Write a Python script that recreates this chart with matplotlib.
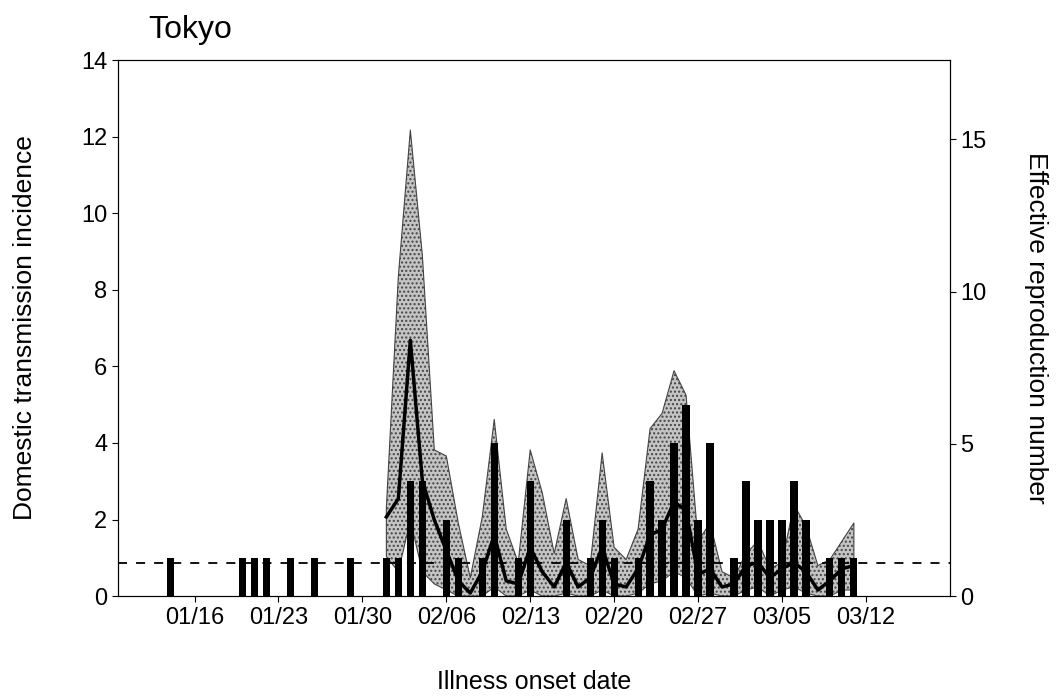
import matplotlib
matplotlib.use("Agg")
import matplotlib.pyplot as plt
import matplotlib.dates as mdates
import pandas as pd

plt.rcParams['font.family'] = ['Liberation Sans', 'DejaVu Sans']

# domestic transmission incidence (bars, left axis)
bar_dates = ["2020-01-14", "2020-01-20", "2020-01-21", "2020-01-22", "2020-01-24",
             "2020-01-26", "2020-01-29", "2020-02-01", "2020-02-02", "2020-02-03",
             "2020-02-04", "2020-02-06", "2020-02-07", "2020-02-09", "2020-02-10",
             "2020-02-12", "2020-02-13", "2020-02-16", "2020-02-18", "2020-02-19",
             "2020-02-20", "2020-02-22", "2020-02-23", "2020-02-24", "2020-02-25",
             "2020-02-26", "2020-02-27", "2020-02-28", "2020-03-01", "2020-03-02",
             "2020-03-03", "2020-03-04", "2020-03-05", "2020-03-06", "2020-03-07",
             "2020-03-09", "2020-03-10", "2020-03-11"]
incidence = [1, 1, 1, 1, 1,
             1, 1, 1, 1, 3,
             3, 2, 1, 1, 4,
             1, 3, 2, 1, 2,
             1, 1, 3, 2, 4,
             5, 2, 4, 1, 3,
             2, 2, 2, 3, 2,
             1, 1, 1]

# effective reproduction number with 95% CI (right axis)
rt_dates = pd.date_range("2020-02-01", "2020-03-11", freq="D")
rt = [2.6, 3.2, 8.4, 3.8, 2.5, 1.5, 0.5, 0.1, 0.8, 2.0,
      0.5, 0.4, 1.6, 0.8, 0.3, 1.1, 0.3, 0.6, 1.6, 0.4,
      0.3, 0.9, 2.0, 2.2, 3.1, 2.8, 0.7, 0.9, 0.3, 0.4,
      1.0, 1.1, 0.6, 0.9, 1.1, 0.8, 0.2, 0.5, 0.9, 1.0]
rt_low = [1.3, 0.8, 2.5, 0.8, 0.4, 0.2, 0.0, 0.0, 0.0, 0.3,
          0.0, 0.0, 0.2, 0.0, 0.0, 0.1, 0.0, 0.0, 0.2, 0.0,
          0.0, 0.1, 0.4, 0.5, 0.8, 0.6, 0.0, 0.1, 0.0, 0.0,
          0.2, 0.3, 0.0, 0.2, 0.3, 0.1, 0.0, 0.0, 0.2, 0.2]
rt_high = [2.9, 10.5, 15.3, 11.2, 4.8, 4.6, 2.4, 0.6, 2.6, 5.8,
           2.2, 1.1, 4.8, 3.4, 1.4, 3.2, 1.2, 1.0, 4.7, 1.6,
           1.2, 2.2, 5.5, 6.0, 7.4, 6.6, 1.8, 2.4, 0.8, 0.6,
           1.4, 1.8, 0.9, 1.1, 3.0, 2.3, 1.0, 1.2, 1.8, 2.4]

tick_dates = pd.date_range("2020-01-16", "2020-03-12", freq="7D")

fig = plt.figure(figsize=(10.6, 6.98), dpi=100)
ax = fig.add_axes([0.111, 0.146, 0.785, 0.768])
ax2 = ax.twinx()

ax2.fill_between(rt_dates, rt_low, rt_high, facecolor="#c4c4c4", edgecolor="#444444",
                 hatch="....", linewidth=0.8)
ax2.plot(rt_dates, rt, color="black", linewidth=2.5)
ax2.axhline(1.1, color="black", linestyle=(0, (5, 5)), linewidth=1.3)

ax.bar(pd.to_datetime(bar_dates), incidence, width=0.6, color="black")

ax.set_zorder(ax2.get_zorder() + 1)
ax.patch.set_visible(False)

ax.set_xlim(pd.Timestamp("2020-01-09 14:00"), pd.Timestamp("2020-03-19"))
ax.set_ylim(0, 14)
ax2.set_ylim(0, 17.6)
ax.set_yticks(range(0, 15, 2))
ax2.set_yticks([0, 5, 10, 15])
ax.set_xticks(tick_dates)
ax.xaxis.set_major_formatter(mdates.DateFormatter("%m/%d"))

ax.tick_params(labelsize=17, length=4)
ax2.tick_params(labelsize=17, length=4)

ax.set_xlabel("Illness onset date", fontsize=18, labelpad=30)
ax.set_ylabel("Domestic transmission incidence", fontsize=19, labelpad=32)
ax2.set_ylabel("Effective reproduction number", fontsize=19, rotation=270, labelpad=44)
fig.text(0.14, 0.945, "Tokyo", fontsize=23)

plt.savefig("out.png")
